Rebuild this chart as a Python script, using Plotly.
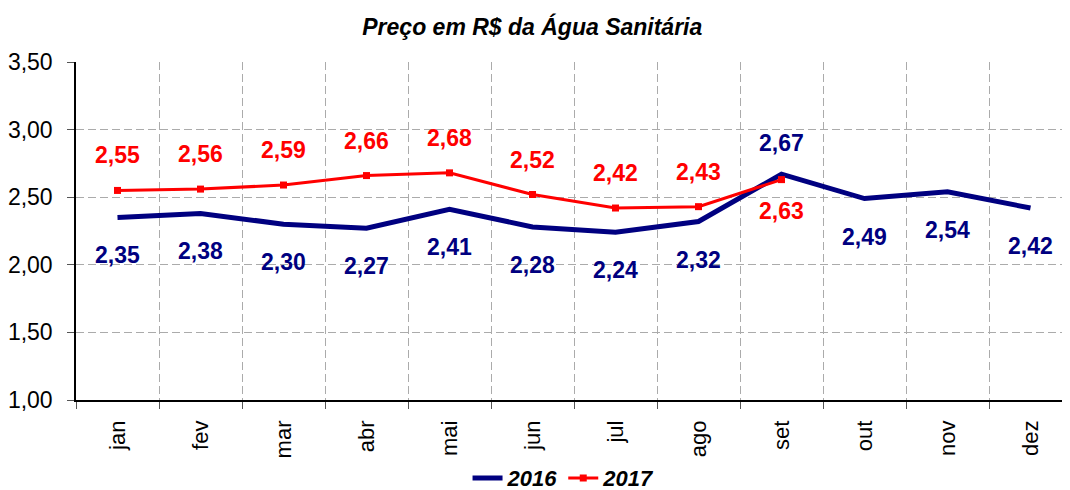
import plotly.graph_objects as go

meses = ["jan", "fev", "mar", "abr", "mai", "jun", "jul", "ago", "set", "out", "nov", "dez"]
v2016 = [2.35, 2.38, 2.30, 2.27, 2.41, 2.28, 2.24, 2.32, 2.67, 2.49, 2.54, 2.42]
v2017 = [2.55, 2.56, 2.59, 2.66, 2.68, 2.52, 2.42, 2.43, 2.63]
# label placement: +1 above, -1 below
pos2016 = [-1, -1, -1, -1, -1, -1, -1, -1, 1, -1, -1, -1]
pos2017 = [1, 1, 1, 1, 1, 1, 1, 1, -1]

NAVY = "#000080"
RED = "#ff0000"
FONT = "Arial, Liberation Sans, sans-serif"
GRID = "#ababab"

fig = go.Figure()
fig.add_trace(go.Scatter(x=meses, y=v2016, mode="lines", name="<b><i>2016</i></b>",
                         line=dict(color=NAVY, width=5)))
fig.add_trace(go.Scatter(x=meses[:len(v2017)], y=v2017, mode="lines+markers",
                         name="<b><i>2017</i></b>",
                         line=dict(color=RED, width=3),
                         marker=dict(symbol="square", size=7, color=RED)))

def fmt(v):
    return f"{v:.2f}".replace(".", ",")

anns = []
for m, v, p in zip(meses, v2016, pos2016):
    anns.append(dict(x=m, y=v, text=f"<b>{fmt(v)}</b>", showarrow=False,
                     yshift=-38 if p < 0 else 31,
                     font=dict(color=NAVY, size=23, family=FONT)))
for m, v, p in zip(meses, v2017, pos2017):
    anns.append(dict(x=m, y=v, text=f"<b>{fmt(v)}</b>", showarrow=False,
                     yshift=35 if p > 0 else -31,
                     font=dict(color=RED, size=23, family=FONT)))

fig.update_layout(
    width=1070, height=490,
    margin=dict(l=68, r=6, t=54, b=98, autoexpand=False),
    paper_bgcolor="white", plot_bgcolor="white",
    font=dict(family=FONT, color="black"),
    title=dict(text="<b><i>Preço em R$ da Água Sanitária</i></b>", x=0.49, xanchor="center",
               y=1 - 19 / 490, yanchor="middle", font=dict(size=23, family=FONT, color="black")),
    separators=",.",
    showlegend=True,
    legend=dict(orientation="h", x=0.49, xanchor="center", y=-0.231, yanchor="middle",
                font=dict(size=22, family=FONT), traceorder="normal",
                bgcolor="rgba(0,0,0,0)"),
    annotations=anns,
)
fig.update_xaxes(type="category", tickson="boundaries", showgrid=True, gridcolor=GRID,
                 griddash="8px,4px", gridwidth=1, showline=True, linecolor="black", linewidth=1.5,
                 ticks="outside", ticklen=7, tickcolor="#555555", tickangle=-90,
                 ticklabelstandoff=10,
                 tickfont=dict(size=22, family=FONT), range=[-0.5, 11.5])
fig.update_yaxes(range=[1.0, 3.5], dtick=0.5, tickformat=".2f", showgrid=True,
                 gridcolor=GRID, griddash="8px,4px", gridwidth=1, showline=True,
                 linecolor="black", linewidth=1.5, ticks="outside", ticklen=7,
                 tickcolor="#555555", ticklabelstandoff=10,
                 tickfont=dict(size=23, family=FONT), zeroline=False)

fig.write_html("out.html")
